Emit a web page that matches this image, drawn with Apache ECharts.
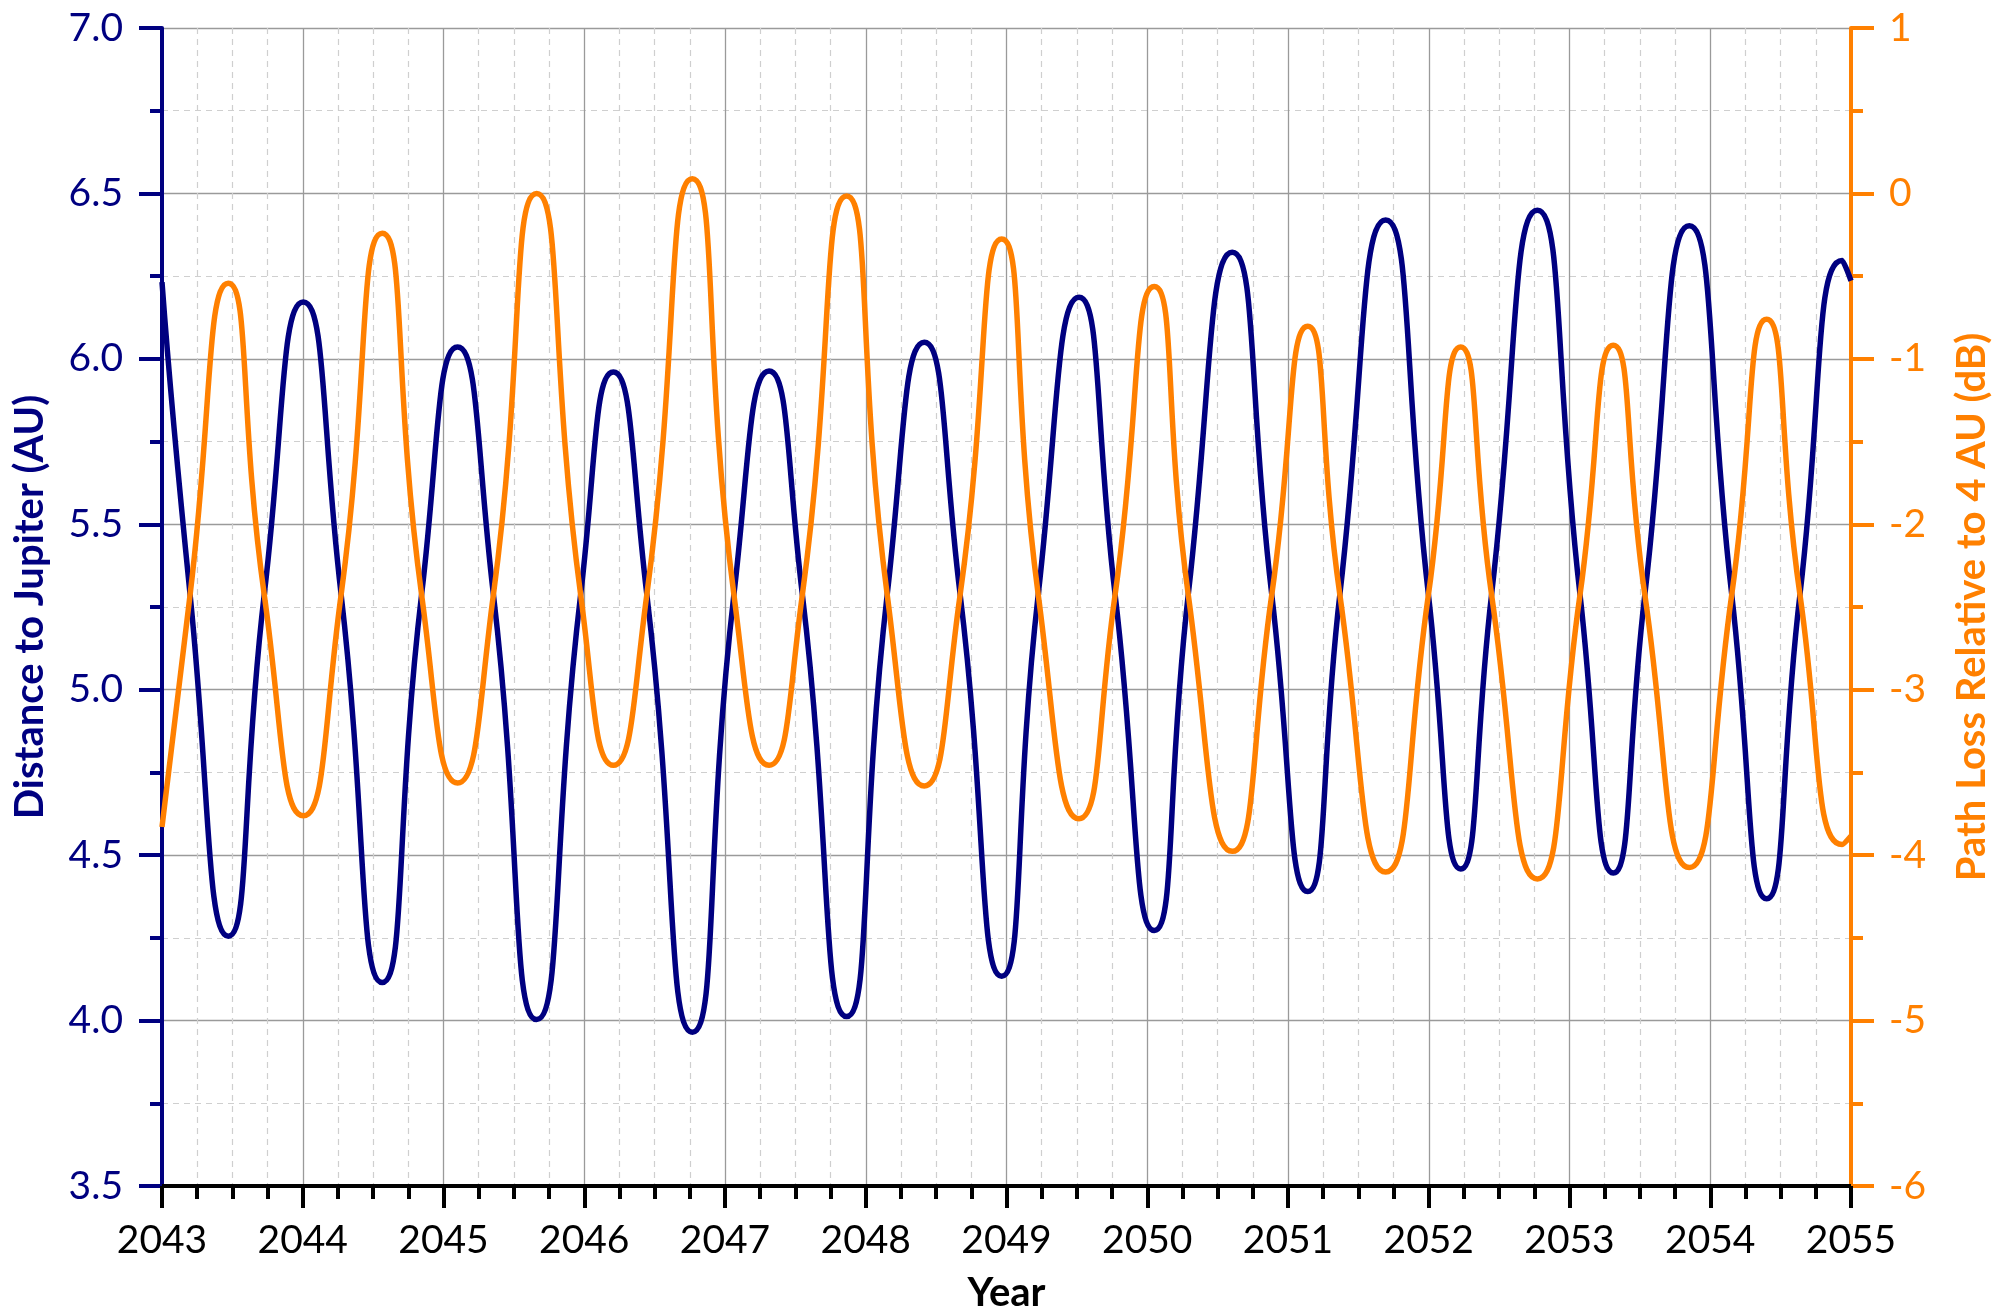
<!DOCTYPE html>
<html>
<head>
<meta charset="utf-8">
<script src="https://cdn.jsdelivr.net/npm/echarts@6/dist/echarts.min.js"></script>
<style>
html,body{margin:0;padding:0;background:#fff;}
#chart{width:1999px;height:1313px;}
</style>
</head>
<body>
<div id="chart"></div>
<script>
const years = [
  2043.000, 2043.199, 2043.471, 2043.727, 2044.004, 2044.272, 2044.565, 2044.845,
  2045.100, 2045.354, 2045.662, 2045.975, 2046.207, 2046.444, 2046.768, 2047.064,
  2047.313, 2047.549, 2047.864, 2048.153, 2048.416, 2048.670, 2048.966, 2049.226,
  2049.515, 2049.771, 2050.050, 2050.292, 2050.604, 2050.884, 2051.140, 2051.369,
  2051.694, 2051.997, 2052.227, 2052.447, 2052.772, 2053.074, 2053.311, 2053.536,
  2053.851, 2054.152, 2054.401, 2054.638, 2054.937, 2055.000
];
const distanceAU = [
  6.232, 5.29, 4.255, 5.29, 6.172, 5.29, 4.115, 5.29,
  6.036, 5.29, 4.003, 5.29, 5.960, 5.29, 3.965, 5.29,
  5.963, 5.29, 4.012, 5.29, 6.050, 5.29, 4.134, 5.29,
  6.186, 5.29, 4.272, 5.29, 6.322, 5.29, 4.390, 5.29,
  6.420, 5.29, 4.458, 5.29, 6.449, 5.29, 4.446, 5.29,
  6.402, 5.29, 4.368, 5.29, 6.297, 6.236
];
const pathLossDB = [
  -3.83, -2.43, -0.543, -2.43, -3.762, -2.43, -0.240, -2.43,
  -3.564, -2.43, -0.001, -2.43, -3.457, -2.43, 0.089, -2.43,
  -3.457, -2.43, -0.015, -2.43, -3.582, -2.43, -0.275, -2.43,
  -3.780, -2.43, -0.563, -2.43, -3.977, -2.43, -0.803, -2.43,
  -4.102, -2.43, -0.928, -2.43, -4.144, -2.43, -0.917, -2.43,
  -4.075, -2.43, -0.761, -2.43, -3.936, -3.884
];

const NAVY = '#000080';
const ORANGE = '#FF8000';
const FONT = 'Lato';

const chart = echarts.init(document.getElementById('chart'), null, {renderer: 'canvas'});

const majorGrid = {show: true, lineStyle: {color: '#9a9a9a', width: 1.3, type: 'solid'}};
const minorGrid = {show: true, lineStyle: {color: '#cfcfcf', width: 1.2, type: [6, 5]}};

chart.setOption({
  animation: false,
  backgroundColor: '#fff',
  grid: {left: 162, right: 148, top: 28, bottom: 127, containLabel: false, outerBoundsMode: 'none'},
  xAxis: {
    type: 'value',
    min: 2043, max: 2055, interval: 1,
    name: 'Year',
    nameLocation: 'middle',
    nameGap: 87,
    nameTextStyle: {fontFamily: FONT, fontWeight: 'bold', fontSize: 40, color: '#000'},
    axisLine: {show: true, onZero: false, lineStyle: {color: '#000', width: 4}},
    axisTick: {show: true, inside: false, length: 22, lineStyle: {color: '#000', width: 4}},
    minorTick: {show: true, splitNumber: 4, length: 13, lineStyle: {color: '#000', width: 4}},
    axisLabel: {fontFamily: FONT, fontSize: 39, color: '#000', margin: 35, formatter: v => String(v)},
    splitLine: majorGrid,
    minorSplitLine: minorGrid
  },
  yAxis: [
    {
      type: 'value',
      position: 'left',
      min: 3.5, max: 7.0, interval: 0.5,
      name: 'Distance to Jupiter (AU)',
      nameLocation: 'middle',
      nameGap: 112,
      nameTextStyle: {fontFamily: FONT, fontWeight: 'bold', fontSize: 40, color: NAVY},
      axisLine: {show: true, onZero: false, lineStyle: {color: NAVY, width: 4}},
      axisTick: {show: true, inside: false, length: 23, lineStyle: {color: NAVY, width: 4}},
      minorTick: {show: true, splitNumber: 2, length: 12, lineStyle: {color: NAVY, width: 4}},
      axisLabel: {fontFamily: FONT, fontSize: 39, color: NAVY, margin: 39, formatter: v => v.toFixed(1)},
      splitLine: majorGrid,
      minorSplitLine: minorGrid
    },
    {
      type: 'value',
      position: 'right',
      min: -6, max: 1, interval: 1,
      name: 'Path Loss Relative to 4 AU (dB)',
      nameLocation: 'middle',
      nameGap: 101,
      nameTextStyle: {fontFamily: FONT, fontWeight: 'bold', fontSize: 40, color: ORANGE},
      axisLine: {show: true, onZero: false, lineStyle: {color: ORANGE, width: 4}},
      axisTick: {show: true, inside: false, length: 23, lineStyle: {color: ORANGE, width: 4}},
      minorTick: {show: true, splitNumber: 2, length: 12, lineStyle: {color: ORANGE, width: 4}},
      axisLabel: {fontFamily: FONT, fontSize: 39, color: ORANGE, margin: 38, formatter: v => String(v)},
      splitLine: {show: false},
      minorSplitLine: {show: false}
    }
  ],
  series: [
    {
      name: 'Distance to Jupiter (AU)',
      type: 'line',
      yAxisIndex: 0,
      data: years.map((y, i) => [y, distanceAU[i]]),
      smooth: 0.58,
      showSymbol: false,
      clip: true,
      lineStyle: {color: NAVY, width: 5.5},
      z: 3
    },
    {
      name: 'Path Loss Relative to 4 AU (dB)',
      type: 'line',
      yAxisIndex: 1,
      data: years.map((y, i) => [y, pathLossDB[i]]),
      smooth: 0.58,
      showSymbol: false,
      clip: true,
      lineStyle: {color: ORANGE, width: 5.5},
      z: 4
    }
  ]
});
</script>
</body>
</html>
